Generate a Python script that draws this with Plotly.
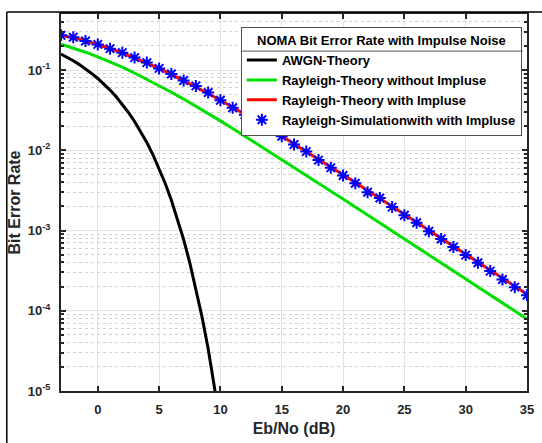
import plotly.graph_objects as go

# ---------------- data ----------------
awgn_x = [-3, -2.5, -2, -1.5, -1, -0.5, 0, 0.5, 1, 1.5, 2, 2.5, 3, 3.5, 4, 4.5,
          5, 5.5, 6, 6.5, 7, 7.5, 8, 8.5, 9, 9.5, 10]
awgn_ber = [0.1584, 0.1445, 0.1306, 0.1170, 0.1038, 0.0909, 0.0786, 0.0671, 0.0563,
            0.0464, 0.0375, 0.0296, 0.0229, 0.0172, 0.0125, 0.00880, 0.00595, 0.00386,
            0.00239, 0.00140, 0.000773, 0.000398, 0.000191, 8.4e-5, 3.36e-5, 1.21e-5,
            3.87e-6]

snr_db = list(range(-3, 36))
rayleigh_no_imp = [0.211, 0.189, 0.167, 0.146, 0.1267, 0.1085, 0.0919, 0.0771, 0.0642,
                   0.0530, 0.0435, 0.0355, 0.0288, 0.0233, 0.01875, 0.0150, 0.01206,
                   0.00966, 0.00772, 0.00616, 0.00491, 0.00391, 0.00312, 0.00248,
                   0.00197, 0.001566, 0.001252, 0.000993, 0.000790, 0.000628, 0.000499,
                   0.000396, 0.000315, 0.000250, 0.0001986, 0.0001578, 0.0001253,
                   0.0000995, 0.0000791]
rayleigh_imp = [0.270, 0.255, 0.232, 0.209, 0.186, 0.164, 0.142, 0.123, 0.105, 0.0885,
                0.0740, 0.0618, 0.0510, 0.0420, 0.0343, 0.0279, 0.0228, 0.01845, 0.0152,
                0.0120, 0.00968, 0.00774, 0.00621, 0.00496, 0.00396, 0.00316, 0.00253,
                0.00201, 0.00160, 0.00127, 0.00101, 0.000804, 0.000639, 0.000508,
                0.000403, 0.000320, 0.000254, 0.000202, 0.000161]
rayleigh_sim = [0.271, 0.256, 0.230, 0.209, 0.185, 0.165, 0.143, 0.124, 0.105, 0.0893,
                0.0740, 0.0635, 0.0525, 0.0420, 0.0340, 0.0278, 0.0227, 0.0180, 0.0150,
                0.0118, 0.00963, 0.00755, 0.00605, 0.00485, 0.00388, 0.00300, 0.00255,
                0.00196, 0.00155, 0.00125, 0.00098, 0.000785, 0.000622, 0.000494,
                0.000397, 0.000312, 0.000245, 0.000197, 0.000156]

x_ticks = [0, 5, 10, 15, 20, 25, 30, 35]
y_tickvals = [1e-5, 1e-4, 1e-3, 1e-2, 1e-1]
y_ticktext = ["10<sup>-5</sup>", "10<sup>-4</sup>", "10<sup>-3</sup>",
              "10<sup>-2</sup>", "10<sup>-1</sup>"]

legend_title = "NOMA Bit Error Rate with Impulse Noise"
names = ["AWGN-Theory", "Rayleigh-Theory without Impluse",
         "Rayleigh-Theory with Impluse", "Rayleigh-Simulationwith with Impluse"]

FONT = "Liberation Sans, Arial, sans-serif"

fig = go.Figure()
fig.add_trace(go.Scatter(x=awgn_x, y=awgn_ber, mode="lines", name=names[0],
                         line=dict(color="black", width=3)))
fig.add_trace(go.Scatter(x=snr_db, y=rayleigh_no_imp, mode="lines", name=names[1],
                         line=dict(color="#00e000", width=3)))
fig.add_trace(go.Scatter(x=snr_db, y=rayleigh_imp, mode="lines", name=names[2],
                         line=dict(color="#ff0000", width=3)))
fig.add_trace(go.Scatter(x=snr_db, y=rayleigh_sim, mode="markers", name=names[3],
                         marker=dict(symbol="asterisk-open", size=10, color="#0000ff",
                                     line=dict(color="#0000ff", width=2))))

LEG_X = 0.386
fig.update_layout(
    width=542, height=443,
    margin=dict(l=61, r=8, t=14, b=46),
    paper_bgcolor="white", plot_bgcolor="white",
    font=dict(family=FONT, size=13, color="#262626", weight="bold"),
    showlegend=True,
    legend=dict(
        x=LEG_X, y=0.965, xanchor="left", yanchor="top",
        bgcolor="white", bordercolor="#505050", borderwidth=1,
        font=dict(family=FONT, size=13, color="black", weight="bold"),
        title=dict(text=legend_title, side="top center",
                   font=dict(family=FONT, size=13, color="black", weight="bold")),
        tracegroupgap=0, itemwidth=30,
    ),
    xaxis=dict(
        range=[-3, 35], tickvals=x_ticks, ticks="inside", ticklen=5, tickwidth=2,
        tickcolor="#262626", showline=True, linewidth=2, linecolor="#262626",
        mirror="allticks", showgrid=True, gridcolor="#e3e3e3", gridwidth=1,
        zeroline=False, ticklabelstandoff=5,
        tickfont=dict(size=13, weight="bold", color="#262626"),
        title=dict(text="Eb/No (dB)", font=dict(size=16, weight="bold", color="#262626"),
                   standoff=7),
    ),
    yaxis=dict(
        type="log", range=[-5, -0.301], tickvals=y_tickvals, ticktext=y_ticktext,
        ticks="inside", ticklen=5, tickwidth=2, tickcolor="#262626",
        showline=True, linewidth=2, linecolor="#262626", mirror="allticks",
        showgrid=True, gridcolor="#e3e3e3", gridwidth=1, zeroline=False,
        ticklabelstandoff=6,
        tickfont=dict(size=13, weight="bold", color="#262626"),
        minor=dict(ticks="inside", ticklen=3, tickwidth=1.5, tickcolor="#262626",
                   showgrid=True, gridcolor="#d0d0d0", griddash="dot", gridwidth=1,
                   dtick="D1"),
        title=dict(text="Bit Error Rate", font=dict(size=16, weight="bold", color="#262626"),
                   standoff=3),
    ),
)

# divider line under the legend title (drawn as an arrow-less annotation line)
fig.add_annotation(xref="paper", yref="paper", x=LEG_X + 0.003, y=0.9016,
                   ax=282, ay=0, text="", showarrow=True, arrowhead=0,
                   arrowwidth=1, arrowcolor="#505050", standoff=0, startstandoff=0)
# outer figure frame (left and top edges)
fig.add_shape(type="line", xref="paper", yref="paper", x0=-0.1163, x1=-0.1163,
              y0=1.005, y1=-0.2, line=dict(color="black", width=1.5))
fig.add_shape(type="line", xref="paper", yref="paper", x0=-0.1163, x1=1.1,
              y0=1.005, y1=1.005, line=dict(color="black", width=1.5))

fig.write_html("out.html", config={"displayModeBar": False},
               post_script="document.body.style.margin='0';document.body.style.overflow='hidden';")
